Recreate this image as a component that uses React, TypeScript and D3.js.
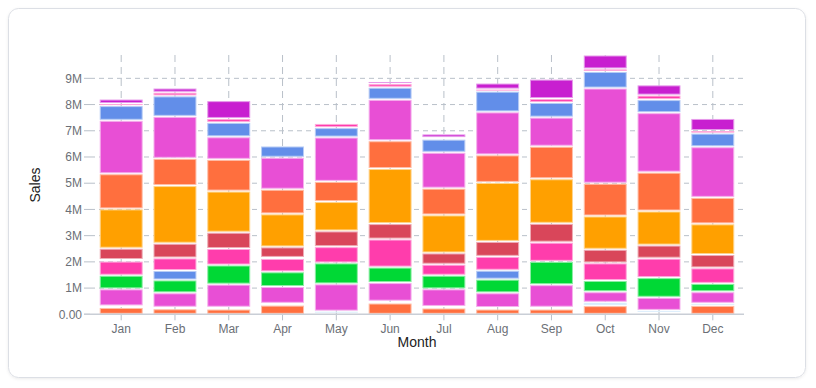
import * as d3 from 'd3'

// sales per month, in thousands, stacked bottom to top
const months = ['Jan', 'Feb', 'Mar', 'Apr', 'May', 'Jun', 'Jul', 'Aug', 'Sep', 'Oct', 'Nov', 'Dec']

const coralLow = [260, 210, 200, 350, 40, 430, 240, 200, 200, 330, 70, 340]
const paleBlue = [60, 60, 70, 70, 80, 70, 60, 60, 70, 130, 80, 80]
const orchidLow = [650, 550, 880, 640, 1040, 710, 670, 560, 860, 400, 500, 440]
const green = [520, 490, 730, 560, 800, 590, 520, 520, 890, 430, 750, 320]
const blueLow = [0, 360, 0, 0, 0, 0, 0, 340, 0, 0, 0, 0]
const hotPinkLow = [540, 480, 630, 510, 620, 1070, 420, 530, 730, 670, 740, 590]
const palePink = [60, 0, 0, 40, 0, 0, 0, 0, 0, 0, 0, 0]
const red = [430, 560, 620, 400, 600, 590, 430, 570, 720, 520, 500, 510]
const gold = [1500, 2200, 1570, 1260, 1120, 2100, 1450, 2250, 1700, 1270, 1300, 1170]
const coralHigh = [1340, 1040, 1210, 940, 770, 1060, 1020, 1050, 1240, 1250, 1480, 1010]
const orchidHigh = [2040, 1600, 860, 1220, 1690, 1580, 1370, 1640, 1110, 3630, 2270, 1930]
const blueHigh = [560, 780, 550, 430, 360, 460, 500, 790, 560, 630, 500, 520]
const hotPinkHigh = [80, 140, 150, 70, 160, 140, 60, 80, 150, 100, 170, 100]
const purple = [170, 160, 680, 10, 60, 80, 140, 230, 740, 530, 390, 460]

const seriesKeys = [
  'coralLow', 'paleBlue', 'orchidLow', 'green', 'blueLow', 'hotPinkLow', 'palePink',
  'red', 'gold', 'coralHigh', 'orchidHigh', 'blueHigh', 'hotPinkHigh', 'purple',
]
const seriesValues = [
  coralLow, paleBlue, orchidLow, green, blueLow, hotPinkLow, palePink,
  red, gold, coralHigh, orchidHigh, blueHigh, hotPinkHigh, purple,
]
const seriesColors = [
  '#ff6f3e', '#b5dcf8', '#e84fd5', '#00d835', '#628ee9', '#ff3dac', '#ffc3de',
  '#d9465a', '#ffa000', '#ff6f3e', '#e84fd5', '#628ee9', '#ff3dac', '#c81fd0',
]
const yTicks = [0, 1, 2, 3, 4, 5, 6, 7, 8, 9]

const W = 816
const H = 388
const left = 90
const right = 744
const top = 55
const bottom = 314.3

export default function App() {
  const table = months.map((m, i) => {
    const row: Record<string, number | string> = { month: m }
    seriesKeys.forEach((k, j) => (row[k] = seriesValues[j][i] * 1000))
    return row
  })
  const stacked = d3.stack<any>().keys(seriesKeys)(table)
  const maxTotal = d3.max(stacked[stacked.length - 1], (d) => d[1]) as number

  const x = d3.scaleBand().domain(months).range([left, right]).paddingInner(0.22).paddingOuter(0.19)
  const y = d3.scaleLinear().domain([0, maxTotal]).range([bottom, top])
  const fmt = (v: number) => (v === 0 ? '0.00' : `${v / 1e6}M`)
  const inset = 1

  return (
    <svg width={W} height={H} style={{ position: 'absolute', left: 0, top: 0 }} fontFamily="'Liberation Sans', Arial, sans-serif">
      <defs>
        <filter id="shadow" x="-5%" y="-5%" width="110%" height="110%">
          <feDropShadow dx="0" dy="1" stdDeviation="1.5" floodColor="#000" floodOpacity="0.08" />
        </filter>
      </defs>
      <rect x={8.5} y={8.5} width={797} height={369} rx={10} fill="#fff" stroke="#dcdfe5" filter="url(#shadow)" />

      {/* horizontal grid */}
      {yTicks.map((t) => (
        <g key={t}>
          <line x1={left - 6} x2={left} y1={y(t * 1e6)} y2={y(t * 1e6)} stroke="#b9c0c9" />
          {t > 0 && (
            <line x1={left} x2={right} y1={y(t * 1e6)} y2={y(t * 1e6)} stroke="#b9c0c9" strokeDasharray="5,4" />
          )}
          <text x={left - 8} y={y(t * 1e6)} dy="0.35em" textAnchor="end" fontSize={12} fill="#6b6f76">
            {fmt(t * 1e6)}
          </text>
        </g>
      ))}

      {/* vertical grid */}
      {months.map((m) => {
        const cx = (x(m) as number) + x.bandwidth() / 2
        return (
          <g key={m}>
            <line x1={cx} x2={cx} y1={top} y2={bottom} stroke="#b9c0c9" strokeDasharray="7,5" />
            <line x1={cx} x2={cx} y1={bottom} y2={bottom + 6} stroke="#b9c0c9" />
            <text x={cx} y={bottom + 14} dy="0.35em" textAnchor="middle" fontSize={12} fill="#6b6f76">
              {m}
            </text>
          </g>
        )
      })}

      {/* bars */}
      {stacked.map((layer, j) => (
        <g key={layer.key} fill={seriesColors[j]} stroke={d3.interpolateRgb(seriesColors[j], '#ffffff')(0.55)}>
          {layer.map((d, i) => {
            if (d[1] - d[0] <= 0) return null
            const y0 = y(d[0])
            const y1 = y(d[1])
            return (
              <rect
                key={i}
                x={x(months[i]) as number}
                width={x.bandwidth()}
                y={y1 + inset}
                height={Math.max(0, y0 - y1 - 2 * inset)}
                strokeWidth={1}
              />
            )
          })}
        </g>
      ))}

      <line x1={left - 6} x2={right} y1={bottom} y2={bottom} stroke="#c9ced6" strokeWidth={1.5} />

      <text x={(left + right) / 2} y={342} dy="0.35em" textAnchor="middle" fontSize={14} fill="#222">
        Month
      </text>
      <text transform={`translate(35,185) rotate(-90)`} dy="0.35em" textAnchor="middle" fontSize={14} fill="#222">
        Sales
      </text>
    </svg>
  )
}
